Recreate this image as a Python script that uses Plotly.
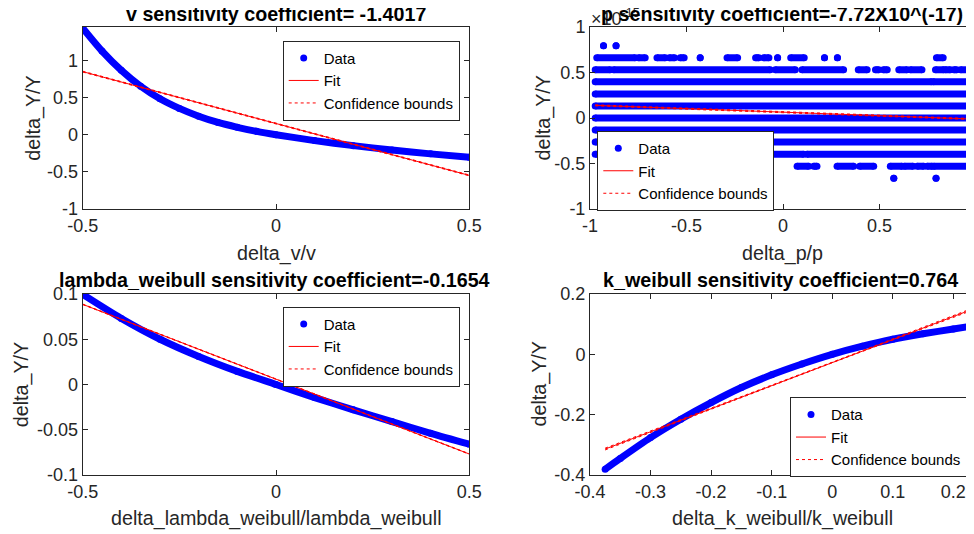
import plotly.graph_objects as go

W, H = 974, 534
OFF = 8  # page body margin: figure is drawn 8px right/down of the window origin
FONT = "Liberation Sans, Arial, Helvetica, sans-serif"
AX = "#262626"

# ---------------- data ----------------
# v sensitivity
v_x = [-0.5, -0.45, -0.4, -0.35, -0.3, -0.25, -0.2, -0.15, -0.1, -0.05, 0.0, 0.1, 0.2, 0.3, 0.4, 0.5]
v_y = [1.44, 1.13, 0.87, 0.655, 0.485, 0.355, 0.25, 0.165, 0.1, 0.045, 0.0, -0.08, -0.148, -0.207, -0.259, -0.306]
v_fit_x = [-0.5, 0.5]
v_fit_y = [0.852, -0.550]
v_cb_x = [-0.5, 0.0, 0.5]
v_cb_lo = [0.846, 0.149, -0.556]
v_cb_hi = [0.858, 0.153, -0.544]

# p sensitivity (values in units of 1e-15), horizontal runs of points per level
p_levels = [0.795, 0.662, 0.53, 0.397, 0.265, 0.132, 0.0, -0.132, -0.265, -0.397, -0.53, -0.662]
p_runs = [
    [(-0.93, -0.93), (-0.865, -0.865)],
    [(-0.965, -0.766), (-0.749, -0.714), (-0.653, -0.61), (-0.589, -0.562), (-0.533, -0.512),
     (-0.429, -0.429), (-0.29, -0.235), (-0.142, -0.125), (-0.1, -0.073), (-0.028, -0.028),
     (0.04, 0.11), (0.215, 0.215), (0.282, 0.282), (0.795, 0.83)],
    [(-0.973, -0.895), (-0.878, -0.066), (-0.04, 0.064), (0.098, 0.314), (0.39, 0.436),
     (0.479, 0.496), (0.52, 0.54), (0.6, 0.643), (0.66, 0.72), (0.79, 0.833), (0.841, 0.867),
     (0.885, 0.9), (0.92, 1.0)],
    [(-0.973, 0.77), (0.778, 1.0)],
    [(-0.973, 1.0)],
    [(-0.973, 1.0)],
    [(-0.973, 1.0)],
    [(-0.973, 1.0)],
    [(-0.973, 1.0)],
    [(-0.973, 0.107), (0.124, 1.0)],
    [(-0.75, -0.3), (0.073, 0.133), (0.159, 0.176), (0.28, 0.366), (0.397, 0.47), (0.556, 0.617),
     (0.629, 0.674), (0.695, 0.729), (0.747, 0.773), (0.781, 1.0)],
    [(0.574, 0.574), (0.793, 0.793)],
]
p_fit_x = [-0.973, 1.0]
p_fit_y = [0.139, -0.013]
p_cb_x = [-0.973, 0.0, 1.0]
p_cb_lo = [0.133, 0.062, -0.019]
p_cb_hi = [0.145, 0.066, -0.007]

# lambda_weibull sensitivity
l_x = [-0.5, -0.4, -0.3, -0.2, -0.1, 0.0, 0.1, 0.2, 0.3, 0.4, 0.5]
l_y = [0.0996, 0.073, 0.050, 0.031, 0.0145, 0.0, -0.0145, -0.028, -0.041, -0.054, -0.066]
l_fit_x = [-0.5, 0.5]
l_fit_y = [0.0886, -0.0768]
l_cb_x = [-0.5, 0.0, 0.5]
l_cb_lo = [0.0883, 0.0058, -0.0771]
l_cb_hi = [0.0889, 0.0060, -0.0765]

# k_weibull sensitivity
k_x = [-0.375, -0.35, -0.3, -0.25, -0.2, -0.15, -0.1, -0.05, 0.0, 0.05, 0.1, 0.15, 0.2, 0.25]
k_y = [-0.381, -0.345, -0.276, -0.215, -0.16, -0.11, -0.068, -0.032, 0.0, 0.027, 0.05, 0.068, 0.084, 0.1]
k_fit_x = [-0.375, 0.25]
k_fit_y = [-0.314, 0.1635]
k_cb_x = [-0.375, 0.0, 0.25]
k_cb_lo = [-0.317, -0.028, 0.160]
k_cb_hi = [-0.311, -0.026, 0.167]

titles = ["v sensitivity coefficient= -1.4017",
          "p sensitivity coefficient=-7.72X10^(-17)",
          "lambda_weibull sensitivity coefficient=-0.1654",
          "k_weibull sensitivity coefficient=0.764"]
xlabels = ["delta_v/v", "delta_p/p", "delta_lambda_weibull/lambda_weibull", "delta_k_weibull/k_weibull"]
ylabel = "delta_Y/Y"

tick_pm1_vals = [-1, -0.5, 0, 0.5, 1]
tick_pm1_text = ["-1", "-0.5", "0", "0.5", "1"]
tick_half_vals = [-0.5, 0, 0.5]
tick_half_text = ["-0.5", "0", "0.5"]
tick_l_vals = [-0.1, -0.05, 0, 0.05, 0.1]
tick_l_text = ["-0.1", "-0.05", "0", "0.05", "0.1"]
tick_kx_vals = [-0.4, -0.3, -0.2, -0.1, 0, 0.1, 0.2]
tick_kx_text = ["-0.4", "-0.3", "-0.2", "-0.1", "0", "0.1", "0.2"]
tick_ky_vals = [-0.4, -0.2, 0, 0.2]
tick_ky_text = ["-0.4", "-0.2", "0", "0.2"]

# ---------------- figure ----------------
fig = go.Figure()

def px_x(p):
    return (p - OFF) / W

def px_y(p):
    return 1 - (p - OFF) / H

BLUE = "#0000ff"
RED = "#ff0000"
MS = 7

def add_curve(xs, ys, fx, fy, cbx, cblo, cbhi, xa, ya, leg):
    fig.add_trace(go.Scatter(x=xs, y=ys, mode="lines", line=dict(color=BLUE, width=MS, shape="spline", smoothing=0.8),
                             xaxis=xa, yaxis=ya, showlegend=False, hoverinfo="skip"))
    fig.add_trace(go.Scatter(x=xs, y=ys, mode="markers", marker=dict(color=BLUE, size=MS),
                             xaxis=xa, yaxis=ya, name="Data", legend=leg))
    fig.add_trace(go.Scatter(x=fx, y=fy, mode="lines", line=dict(color=RED, width=1),
                             xaxis=xa, yaxis=ya, name="Fit", legend=leg))
    fig.add_trace(go.Scatter(x=cbx, y=cblo, mode="lines", line=dict(color=RED, width=1, dash="dot"),
                             xaxis=xa, yaxis=ya, name="Confidence bounds", legend=leg))
    fig.add_trace(go.Scatter(x=cbx, y=cbhi, mode="lines", line=dict(color=RED, width=1, dash="dot"),
                             xaxis=xa, yaxis=ya, showlegend=False, legend=leg))

add_curve(v_x, v_y, v_fit_x, v_fit_y, v_cb_x, v_cb_lo, v_cb_hi, "x", "y", "legend")

# p runs
rx, ry, mx, my = [], [], [], []
for lvl, runs in zip(p_levels, p_runs):
    for s, e in runs:
        rx += [s, e, None]
        ry += [lvl, lvl, None]
        mx += [s, e]
        my += [lvl, lvl]
fig.add_trace(go.Scatter(x=rx, y=ry, mode="lines", line=dict(color=BLUE, width=MS),
                         xaxis="x2", yaxis="y2", showlegend=False, hoverinfo="skip"))
fig.add_trace(go.Scatter(x=mx, y=my, mode="markers", marker=dict(color=BLUE, size=MS),
                         xaxis="x2", yaxis="y2", name="Data", legend="legend2"))
fig.add_trace(go.Scatter(x=p_fit_x, y=p_fit_y, mode="lines", line=dict(color=RED, width=1),
                         xaxis="x2", yaxis="y2", name="Fit", legend="legend2"))
fig.add_trace(go.Scatter(x=p_cb_x, y=p_cb_lo, mode="lines", line=dict(color=RED, width=1, dash="dot"),
                         xaxis="x2", yaxis="y2", name="Confidence bounds", legend="legend2"))
fig.add_trace(go.Scatter(x=p_cb_x, y=p_cb_hi, mode="lines", line=dict(color=RED, width=1, dash="dot"),
                         xaxis="x2", yaxis="y2", showlegend=False, legend="legend2"))

add_curve(l_x, l_y, l_fit_x, l_fit_y, l_cb_x, l_cb_lo, l_cb_hi, "x3", "y3", "legend3")
add_curve(k_x, k_y, k_fit_x, k_fit_y, k_cb_x, k_cb_lo, k_cb_hi, "x4", "y4", "legend4")

# axes geometry in window pixels
L_X0, L_X1 = 82.7, 469.3
R_X0, R_X1 = 590.0, 976.0
T_Y0, T_Y1 = 27.0, 209.0
B_Y0, B_Y1 = 294.0, 475.0

def axis_common(**kw):
    d = dict(showgrid=False, zeroline=False, showline=True, linecolor=AX, linewidth=1,
             ticks="inside", ticklen=5, tickcolor=AX, tickwidth=1, automargin=False,
             mirror="ticks", tickmode="array",
             tickfont=dict(family=FONT, size=18, color=AX))
    d.update(kw)
    return d

fig.update_layout(
    xaxis=axis_common(domain=[px_x(L_X0), px_x(L_X1)], range=[-0.5, 0.5], anchor="y",
                      tickvals=tick_half_vals, ticktext=tick_half_text),
    yaxis=axis_common(domain=[px_y(T_Y1), px_y(T_Y0)], range=[-1.004, 1.455], anchor="x",
                      tickvals=tick_pm1_vals, ticktext=tick_pm1_text),
    xaxis2=axis_common(domain=[px_x(R_X0), px_x(R_X1)], range=[-1.0, 1.0], anchor="y2",
                       tickvals=tick_pm1_vals, ticktext=tick_pm1_text),
    yaxis2=axis_common(domain=[px_y(T_Y1), px_y(T_Y0)], range=[-1, 1], anchor="x2",
                       tickvals=tick_pm1_vals, ticktext=tick_pm1_text),
    xaxis3=axis_common(domain=[px_x(L_X0), px_x(L_X1)], range=[-0.5, 0.5], anchor="y3",
                       tickvals=tick_half_vals, ticktext=tick_half_text),
    yaxis3=axis_common(domain=[px_y(B_Y1), px_y(B_Y0)], range=[-0.1, 0.1], anchor="x3",
                       tickvals=tick_l_vals, ticktext=tick_l_text),
    xaxis4=axis_common(domain=[px_x(R_X0), px_x(R_X1)], range=[-0.4, -0.4 + (R_X1 - R_X0) / 605.5], anchor="y4",
                       tickvals=tick_kx_vals, ticktext=tick_kx_text),
    yaxis4=axis_common(domain=[px_y(B_Y1), px_y(B_Y0)], range=[-0.4, 0.2], anchor="x4",
                       tickvals=tick_ky_vals, ticktext=tick_ky_text),
)

def legend_at(left, top):
    return dict(x=px_x(left), y=px_y(top), xanchor="left", yanchor="top", bgcolor="white",
                bordercolor=AX, borderwidth=1, font=dict(family=FONT, size=15, color="black"),
                itemwidth=30, tracegroupgap=0)

fig.update_layout(
    legend=legend_at(282.7, 40.7),
    legend2=legend_at(597.3, 131.0),
    legend3=legend_at(282.7, 306.7),
    legend4=legend_at(790.0, 397.3),
)

ann = []
# exponent label for p plot
ann.append(dict(x=px_x(589), y=px_y(31), xref="paper", yref="paper", xanchor="left", yanchor="bottom",
                text="×10<sup>-15</sup>", showarrow=False, font=dict(family=FONT, size=18, color=AX)))
title_pos = [(276, 14), (782, 14), (274, 280), (780, 280)]
for t, (cx, cy) in zip(titles, title_pos):
    ann.append(dict(x=px_x(cx), y=px_y(cy), xref="paper", yref="paper", xanchor="center", yanchor="middle",
                    text="<b>" + t + "</b>", showarrow=False, font=dict(family=FONT, size=19.7, color="black")))
xl_pos = [(276, 253), (782, 253), (276, 518), (782, 518)]
for t, (cx, cy) in zip(xlabels, xl_pos):
    ann.append(dict(x=px_x(cx), y=px_y(cy), xref="paper", yref="paper", xanchor="center", yanchor="middle",
                    text=t, showarrow=False, font=dict(family=FONT, size=19.7, color=AX)))
yl_pos = [(32.7, 118), (542.5, 118), (21.7, 384.5), (539, 384.5)]
for (cx, cy) in yl_pos:
    ann.append(dict(x=px_x(cx), y=px_y(cy), xref="paper", yref="paper", xanchor="center", yanchor="middle",
                    text=ylabel, textangle=-90, showarrow=False, font=dict(family=FONT, size=19.7, color=AX)))

fig.update_layout(
    annotations=ann,
    width=W, height=H,
    margin=dict(l=0, r=0, t=0, b=0, autoexpand=False),
    paper_bgcolor="white", plot_bgcolor="white",
    font=dict(family=FONT, color=AX),
    hovermode=False,
)

fig.write_html("out.html")
